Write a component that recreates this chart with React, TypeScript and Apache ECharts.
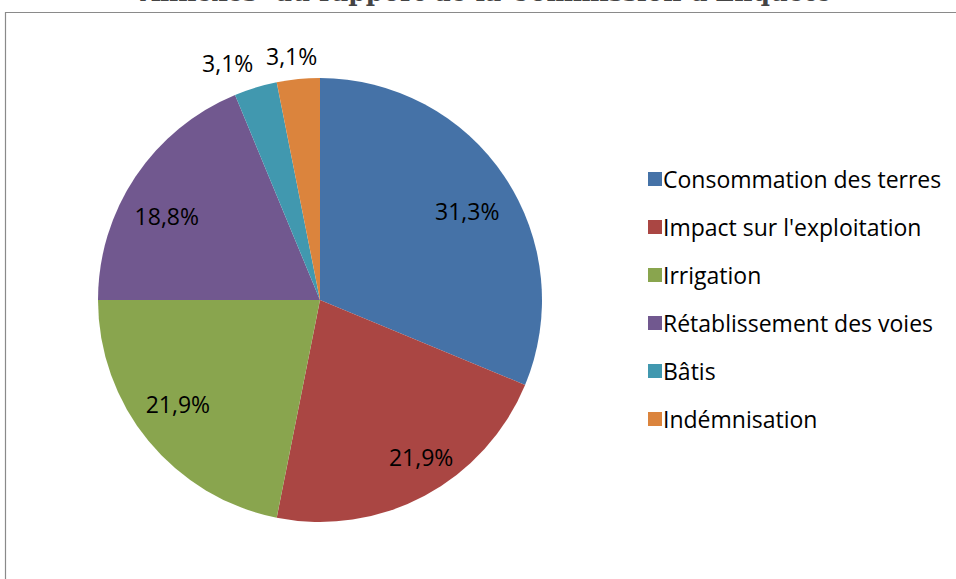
import React, { useEffect, useRef } from "react";
import * as echarts from "echarts";

const TITLE = "Annexes  du rapport de la Commission d'Enquête";
const categories = [
  "Consommation des terres",
  "Impact sur l'exploitation",
  "Irrigation",
  "Rétablissement des voies",
  "Bâtis",
  "Indémnisation",
];
const values = [10, 7, 7, 6, 1, 1];
const colors = ["#4572A7", "#AA4643", "#89A54E", "#71588F", "#4198AF", "#DB843D"];

// label placement (radius as fraction of pie radius, angular nudge in degrees)
const LABEL_RADIUS = [0.775, 0.84, 0.794, 0.787, 1.146, 1.107];
const LABEL_SHIFT = [2.6, -4.7, 3.1, -5, -4.4, -1];

const CX = 320;
const CY = 300;
const R = 222;
const FONT = "'Open Sans', 'Noto Sans', sans-serif";

export default function App() {
  const ref = useRef<HTMLDivElement>(null);
  useEffect(() => {
    const chart = echarts.init(ref.current!, null, { renderer: "svg" });
    chart.setOption({
      animation: false,
      backgroundColor: "#ffffff",
      color: colors,
      graphic: [
        {
          type: "rect",
          shape: { x: 5.5, y: 12.5, width: 1200, height: 1200 },
          style: { fill: "none", stroke: "#8a8a8a", lineWidth: 1.2 },
          silent: true,
          z: 0,
        },
        {
          type: "text",
          x: 486,
          y: 5,
          style: {
            text: TITLE,
            fill: "#444444",
            font: "bold 25px 'DejaVu Serif', serif",
            align: "center",
            verticalAlign: "bottom",
          },
          silent: true,
        },
      ],
      legend: {
        orient: "vertical",
        left: 643,
        top: 161,
        icon: "rect",
        itemWidth: 14,
        itemHeight: 14,
        itemGap: 22,
        data: categories,
        textStyle: {
          fontFamily: FONT,
          fontSize: 23,
          color: "#000000",
          lineHeight: 26,
          padding: [0, 0, 0, -4],
        },
      },
      series: [
        {
          type: "pie",
          center: [CX, CY],
          radius: [0, R],
          startAngle: 90,
          clockwise: true,
          silent: true,
          itemStyle: { borderWidth: 0 },
          label: {
            show: true,
            position: "inside",
            fontFamily: FONT,
            fontSize: 23,
            color: "#000000",
            formatter: (p: any) => p.percent.toFixed(1).replace(".", ",") + "%",
          },
          labelLine: { show: false },
          labelLayout: (p: any) => {
            const i = p.dataIndex;
            const lx = p.labelRect.x + p.labelRect.width / 2;
            const ly = p.labelRect.y + p.labelRect.height / 2;
            const ang = Math.atan2(ly - CY, lx - CX) + (LABEL_SHIFT[i] * Math.PI) / 180;
            const r = LABEL_RADIUS[i] * R;
            return {
              x: CX + r * Math.cos(ang),
              y: CY + r * Math.sin(ang),
              align: "center",
              verticalAlign: "middle",
            };
          },
          data: categories.map((c, i) => ({ name: c, value: values[i] })),
        },
      ],
    });
    return () => chart.dispose();
  }, []);
  return (
    <div
      ref={ref}
      style={{ position: "absolute", left: 0, top: 0, width: 956, height: 579 }}
    />
  );
}
